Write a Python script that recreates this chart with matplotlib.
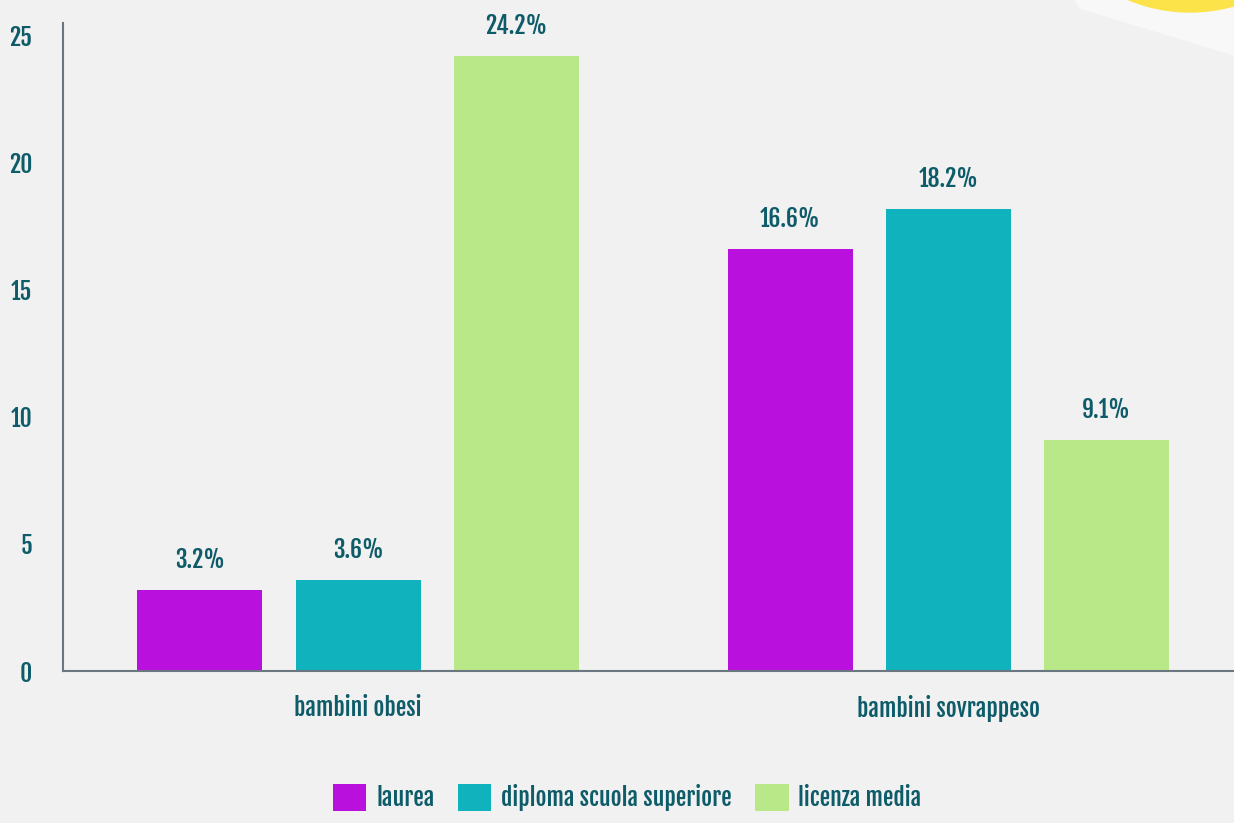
import matplotlib.pyplot as plt
import numpy as np
from matplotlib.patches import Ellipse, Polygon

# dati
categorie = ['bambini obesi', 'bambini sovrappeso']
serie = ['laurea', 'diploma scuola superiore', 'licenza media']
laurea = [3.2, 16.6]
diploma = [3.6, 18.2]
licenza = [24.2, 9.1]
valori = [laurea, diploma, licenza]
colori = ['#BA10DE', '#10B2BD', '#B9E889']
testo = '#0E5B69'

plt.rcParams['font.family'] = ['Fjalla One', 'DejaVu Sans']

W, H = 1234, 823
fig = plt.figure(figsize=(W / 100, H / 100), dpi=100)
fig.patch.set_facecolor('#F1F1F1')

# decorazione in alto a destra (foglio e cerchio giallo)
fig.patches.append(Polygon([(1075 / W, 1), (1234 / W, 1), (1234 / W, 1 - 55 / H), (1080 / W, 1 - 8 / H)],
                           closed=True, transform=fig.transFigure, color='#F8F8F8', zorder=0))
r = 160
fig.patches.append(Ellipse((1190 / W, 1 + 148 / H), 2 * r / W, 2 * r / H,
                           transform=fig.transFigure, color='#FCE34A', zorder=0))

ax = fig.add_axes([63 / W, 1 - 671 / H, 1 - 63 / W, 648 / H])
ax.set_facecolor('none')

x = np.arange(len(categorie))
w = 0.212
step = 0.268
for i, (vals, col) in enumerate(zip(valori, colori)):
    pos = x + (i - 1) * step
    bars = ax.bar(pos, vals, width=w, color=col, label=serie[i], zorder=2)
    for b, v in zip(bars, vals):
        ax.annotate(f'{v}%', (b.get_x() + b.get_width() / 2, v),
                    xytext=(0, 12), textcoords='offset points',
                    ha='center', va='bottom', fontsize=17, color=testo)

ax.set_xlim(-0.5, 1.484)
ax.set_ylim(0, 25.5)
ax.set_yticks([0, 5, 10, 15, 20, 25])
ax.set_xticks(x)
ax.set_xticklabels(categorie)
ax.tick_params(axis='both', length=0, labelsize=17, labelcolor=testo)
ax.tick_params(axis='y', pad=22)
ax.tick_params(axis='x', pad=17.5)

for s in ['top', 'right']:
    ax.spines[s].set_visible(False)
for s in ['left', 'bottom']:
    ax.spines[s].set_color('#6B7780')
    ax.spines[s].set_linewidth(1.5)

# legenda in basso, quadrati ~33px
leg = fig.legend(loc='lower center', bbox_to_anchor=(0.5085, -0.006), ncol=3,
                 frameon=False, fontsize=17, handlelength=1.4, handleheight=1.4,
                 handletextpad=0.42, columnspacing=1.0, labelcolor=testo,
                 borderpad=0.2)

fig.savefig('out.png', dpi=100, facecolor=fig.get_facecolor())
